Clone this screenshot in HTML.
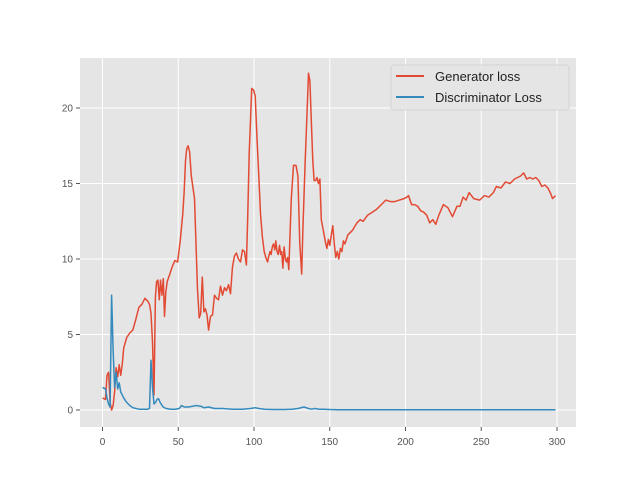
<!DOCTYPE html>
<html><head><meta charset="utf-8"><style>
html,body{margin:0;padding:0;background:#fff;}
svg{display:block;font-family:"Liberation Sans",sans-serif;}
</style></head><body>
<svg id="chart" width="640" height="480">
<rect x="80" y="58" width="496" height="369" fill="#E5E5E5"/>
<g id="grid"></g><g id="ticks"></g><g id="series"></g>
<g>
<rect x="391" y="65" width="178" height="45" rx="3" fill="#E5E5E5" stroke="#cccccc" stroke-width="0.8" opacity="0.9"/>
<line x1="396" y1="76" x2="424" y2="76" stroke="#E24A33" stroke-width="2"/>
<text x="435" y="81" font-size="13" fill="#222">Generator loss</text>
<line x1="396" y1="97" x2="424" y2="97" stroke="#348ABD" stroke-width="2"/>
<text x="435" y="102" font-size="13" fill="#222">Discriminator Loss</text>
</g>
</svg>
<script>
const xTicks=[0,50,100,150,200,250,300];
const yTicks=[0,5,10,15,20];
const genEpochs=[0,2,3,4,5,6,7,8,9,10,11,12,13,14,16,18,20,22,24,26,28,30,31,32,33,34,34.9,35.7,36.6,37.5,38.3,39.2,40.1,40.9,41.8,42.7,44.4,46.1,47.8,49.6,51.3,53.0,53.9,54.8,55.6,56.5,57.5,58.6,59.6,60.7,61.7,62.7,63.8,64.8,65.9,66.9,67.9,69.0,70,71.3,72.6,73.9,75.3,76.6,77.9,79.2,80.5,81.8,83.2,84.5,85.8,87.1,88.4,89.7,91.1,92.4,93.7,95,95.9,96.8,97.6,98.5,99.7,100.8,102,103.2,104.3,105.5,106.7,107.8,109,109.8,110.6,111.3,112.1,112.9,113.7,114.4,115.2,116,116.8,117.6,118.3,119.1,119.9,120.7,121.4,122.2,123,124.6,126.1,127.7,129,130.2,131.5,132.3,133.8,135.3,136,136.9,137.9,138.8,139.7,140.7,141.6,142.5,143.5,144.4,146.3,147.2,148.1,149.1,150,151,152,153,154,155,156,157,158,159,160,162,165,168,170,172,175,178,181,184,187,190,193,196,199,201,202,204,206,208,210,212,214,216,218,220,222,225,228,231,234,236,238,240,242,245,249,252,255,258,260,263,266,269,272,274,276,278,280,282,284,286,288,290,292,294,296,297,299];
const genLoss=[0.8,0.7,2.3,2.5,0.5,0,0.3,1.2,2.8,2.2,3,2.3,3.0,4.1,4.8,5.1,5.3,6.0,6.8,7.0,7.4,7.2,7.0,6.4,4.5,1.0,7.5,8.5,8.6,7.3,8.6,7.6,8.7,6.2,7.8,8.5,9.0,9.5,9.9,9.8,11.2,13,14.5,16.5,17.3,17.5,17.1,15.5,14.8,14,11,8,6.1,6.4,8.8,6.5,6.7,6.3,5.3,6.2,6.3,7.6,7.4,7.3,8.2,7.6,8.1,7.9,8.3,7.7,9.5,10.2,10.4,10.0,9.8,10.6,10.5,9.6,13,17,19,21.3,21.2,20.8,18,15.5,13,11.5,10.5,10.1,9.8,10.2,10.5,10.3,10.8,11,10.6,11.2,10.5,10.3,10.9,10.3,10.5,9.4,10.8,10.0,9.8,10.1,9.3,14,16.2,16.2,15.5,11,9,12,16.5,20.5,22.3,21.8,19,16.5,15.2,15.2,15.4,15.0,15.3,12.6,11.6,11.1,10.7,11.3,10.9,11.6,12.2,11.0,10.1,10.5,10.0,10.7,10.5,11.2,11.0,11.6,11.9,12.4,12.6,12.5,12.9,13.1,13.3,13.6,13.9,13.8,13.8,13.9,14.0,14.1,14.2,13.6,13.6,13.5,13.2,13.1,12.9,12.4,12.6,12.3,12.9,13.6,13.4,12.8,13.5,13.5,14.1,13.9,14.4,14.0,13.9,14.2,14.1,14.4,14.8,14.7,15.1,15.0,15.3,15.4,15.5,15.7,15.3,15.4,15.3,15.4,15.2,14.8,14.9,14.7,14.3,14.0,14.2,14.4,14.1];
const discEpochs=[0,2,3,4,5,6,7,8,9,10,11,12,14,16,18,20,24,30,31,32,33,34,35,36,37,38,40,42,45,48,50.6,52.2,53.9,56.5,59.6,61.7,64.8,66.9,70,73.9,79.2,85.8,92.4,97.6,100.8,103.2,107,112,120,125,129,133,136,138,140,143,146,150,155,299];
const discLoss=[1.5,1.4,0.8,0.4,0.2,7.6,4,1.5,2.5,1.4,1.8,1.2,0.8,0.5,0.3,0.15,0.05,0.05,0.1,3.3,1.5,0.4,0.5,0.7,0.75,0.5,0.2,0.1,0.05,0.05,0.1,0.3,0.2,0.2,0.25,0.3,0.25,0.15,0.2,0.1,0.1,0.05,0.05,0.1,0.15,0.1,0.05,0.03,0.03,0.05,0.1,0.2,0.1,0.05,0.1,0.05,0.05,0.03,0.02,0.02];
const X=v=>102.5+v*1.515;
const Y=v=>410-v*15.1;
const NS='http://www.w3.org/2000/svg';
function mk(tag,attrs,parent){const e=document.createElementNS(NS,tag);for(const k in attrs)e.setAttribute(k,attrs[k]);parent.appendChild(e);return e;}
const grid=document.getElementById('grid'),ticks=document.getElementById('ticks'),series=document.getElementById('series');
xTicks.forEach(t=>{
 const g=mk('line',{x1:X(t),x2:X(t),y1:58,y2:427,stroke:'#fff','stroke-width':1},grid);
 
 
 const tk=mk('line',{x1:X(t),x2:X(t),y1:427,y2:431,stroke:'#555','stroke-width':1},ticks);
 
 
 const tx=mk('text',{x:X(t),y:445,'font-size':10,fill:'#555','text-anchor':'middle'},ticks);
 tx.textContent=t;
 
 
});
yTicks.forEach(t=>{
 const g=mk('line',{x1:80,x2:576,y1:Y(t),y2:Y(t),stroke:'#fff','stroke-width':1},grid);
 
 
 const tk=mk('line',{x1:76,x2:80,y1:Y(t),y2:Y(t),stroke:'#555','stroke-width':1},ticks);
 
 
 const tx=mk('text',{x:73,y:Y(t)+3.5,'font-size':10,fill:'#555','text-anchor':'end'},ticks);
 tx.textContent=t;
 
 
});
function line(xs,ys){return xs.map((x,i)=>X(x).toFixed(1)+','+Y(ys[i]).toFixed(1)).join(' ');}
const gl=mk('polyline',{points:line(genEpochs,genLoss),fill:'none',stroke:'#E24A33','stroke-width':1.5,'stroke-linejoin':'round'},series);


const dl=mk('polyline',{points:line(discEpochs,discLoss),fill:'none',stroke:'#348ABD','stroke-width':1.5,'stroke-linejoin':'round'},series);


</script>
</body></html>
